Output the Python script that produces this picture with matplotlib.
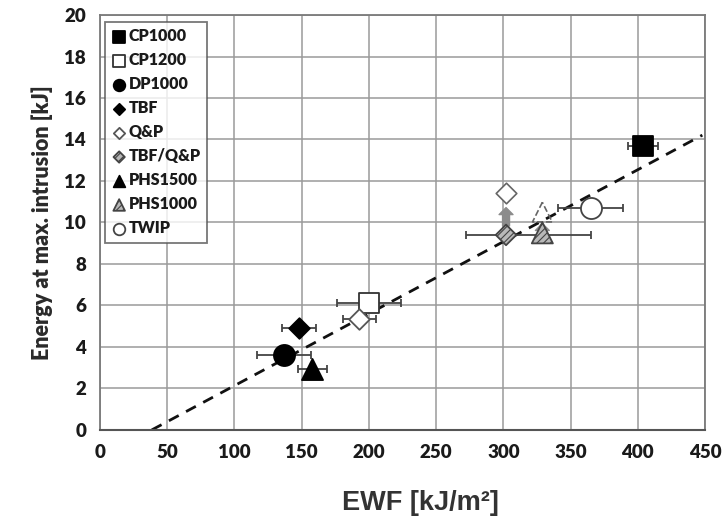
import matplotlib.pyplot as plt
import numpy as np

# steel grades: EWF vs energy at max. intrusion
grades = ['CP1000', 'CP1200', 'DP1000', 'TBF', 'Q&P', 'TBF/Q&P', 'PHS1500', 'PHS1000', 'TWIP']
ewf = [404, 200, 137, 148, 193, 302, 158, 329, 365]
energy = [13.7, 6.1, 3.6, 4.9, 5.35, 9.4, 2.95, 9.5, 10.7]
xerr_lo = [11, 24, 20, 13, 12, 30, 11, 0, 24]
xerr_hi = [11, 24, 20, 13, 12, 63, 11, 0, 24]

# shifted points reached by the arrows (TBF/Q&P -> Q&P, PHS1000 -> upper triangle)
shift_from = [(302, 9.4), (329, 9.5)]
shift_to = [(302, 11.4), (329, 10.5)]

# linear fit drawn as dashed line
fit_x = [38.5, 448]
fit_slope = 0.0347

styles = {
    'CP1000': dict(marker='s', s=210, fc='black', ec='black', hatch=None),
    'CP1200': dict(marker='s', s=210, fc='white', ec='#333333', hatch=None),
    'DP1000': dict(marker='o', s=230, fc='black', ec='black', hatch=None),
    'TBF': dict(marker='D', s=110, fc='black', ec='black', hatch=None),
    'Q&P': dict(marker='D', s=110, fc='white', ec='#555555', hatch=None),
    'TBF/Q&P': dict(marker='D', s=110, fc='#b8b8b8', ec='#444444', hatch='/////'),
    'PHS1500': dict(marker='^', s=230, fc='black', ec='black', hatch=None),
    'PHS1000': dict(marker='^', s=230, fc='#b8b8b8', ec='#444444', hatch='/////'),
    'TWIP': dict(marker='o', s=230, fc='white', ec='#444444', hatch=None),
}

plt.rcParams['font.family'] = ['Lato', 'DejaVu Sans']
plt.rcParams['hatch.linewidth'] = 0.8

fig = plt.figure(figsize=(7.22, 5.18), dpi=100)
ax = fig.add_axes([0.1385, 0.17, 0.838, 0.801])

ax.set_xlim(0, 450)
ax.set_ylim(0, 20)
ax.set_xticks(np.arange(0, 451, 50))
ax.set_yticks(np.arange(0, 21, 2))
ax.grid(True, color='#9a9a9a', linewidth=1.1)
ax.set_axisbelow(True)
for side in ['top', 'right', 'left']:
    ax.spines[side].set_color('#7a7a7a')
    ax.spines[side].set_linewidth(1.3)
ax.spines['bottom'].set_color('#555555')
ax.spines['bottom'].set_linewidth(1.5)
ax.tick_params(length=0, labelsize=13.5, labelcolor='#1a1a1a', pad=10)
for lab in ax.get_xticklabels() + ax.get_yticklabels():
    lab.set_fontweight('heavy')

# fit line
xs = np.array(fit_x)
ax.plot(xs, fit_slope * (xs - fit_x[0]), ls=(0, (4, 3)), color='#111111', lw=2.0, zorder=2)

# error bars
for i, g in enumerate(grades):
    if xerr_lo[i] or xerr_hi[i]:
        ax.errorbar(ewf[i], energy[i], xerr=[[xerr_lo[i]], [xerr_hi[i]]], fmt='none',
                    ecolor='#444444', elinewidth=1.3, capsize=3, capthick=1.3, zorder=3)

# arrows to shifted points
for (x0, y0), (x1, y1) in zip(shift_from, shift_to):
    ax.annotate('', xy=(x1, y1 - 0.55), xytext=(x0, y0 + 0.3),
                arrowprops=dict(arrowstyle='simple,head_width=1.0,head_length=0.5,tail_width=0.5',
                                fc='#8c8c8c', ec='#8c8c8c'), zorder=4)

# upper hollow markers
ax.scatter(shift_to[0][0], shift_to[0][1], marker='D', s=110, facecolor='white',
           edgecolor='#666666', linewidth=1.2, zorder=5)
ax.scatter(shift_to[1][0], shift_to[1][1], marker='^', s=200, facecolor='none',
           edgecolor='#666666', linewidth=1.2, linestyle='--', zorder=5)

# data points
for i, g in enumerate(grades):
    st = styles[g]
    ax.scatter(ewf[i], energy[i], marker=st['marker'], s=st['s'], facecolor=st['fc'],
               edgecolor=st['ec'], hatch=st['hatch'], linewidth=1.3, zorder=6, label=g)

leg = ax.legend(loc='upper left', bbox_to_anchor=(0.0, 0.995), frameon=True, fancybox=False,
                borderpad=0.4, labelspacing=0.5, handletextpad=0.1, handlelength=1.0,
                markerscale=0.55, prop={'weight': 'heavy', 'size': 11.5}, borderaxespad=0.3)
leg.get_frame().set_edgecolor('#555555')
leg.get_frame().set_linewidth(1.3)
for t in leg.get_texts():
    t.set_color('#1a1a1a')

ax.set_xlabel('EWF [kJ/m\u00b2]', fontsize=19.5, fontweight='bold', color='#333333',
              family=['Liberation Sans Narrow', 'Liberation Sans', 'DejaVu Sans'])
ax.xaxis.set_label_coords(0.53, -0.145)
ax.set_ylabel('Energy at max. intrusion [kJ]', fontsize=15.5, fontweight='heavy', color='#2a2a2a',
              labelpad=8)

fig.savefig('out.png', dpi=100)
